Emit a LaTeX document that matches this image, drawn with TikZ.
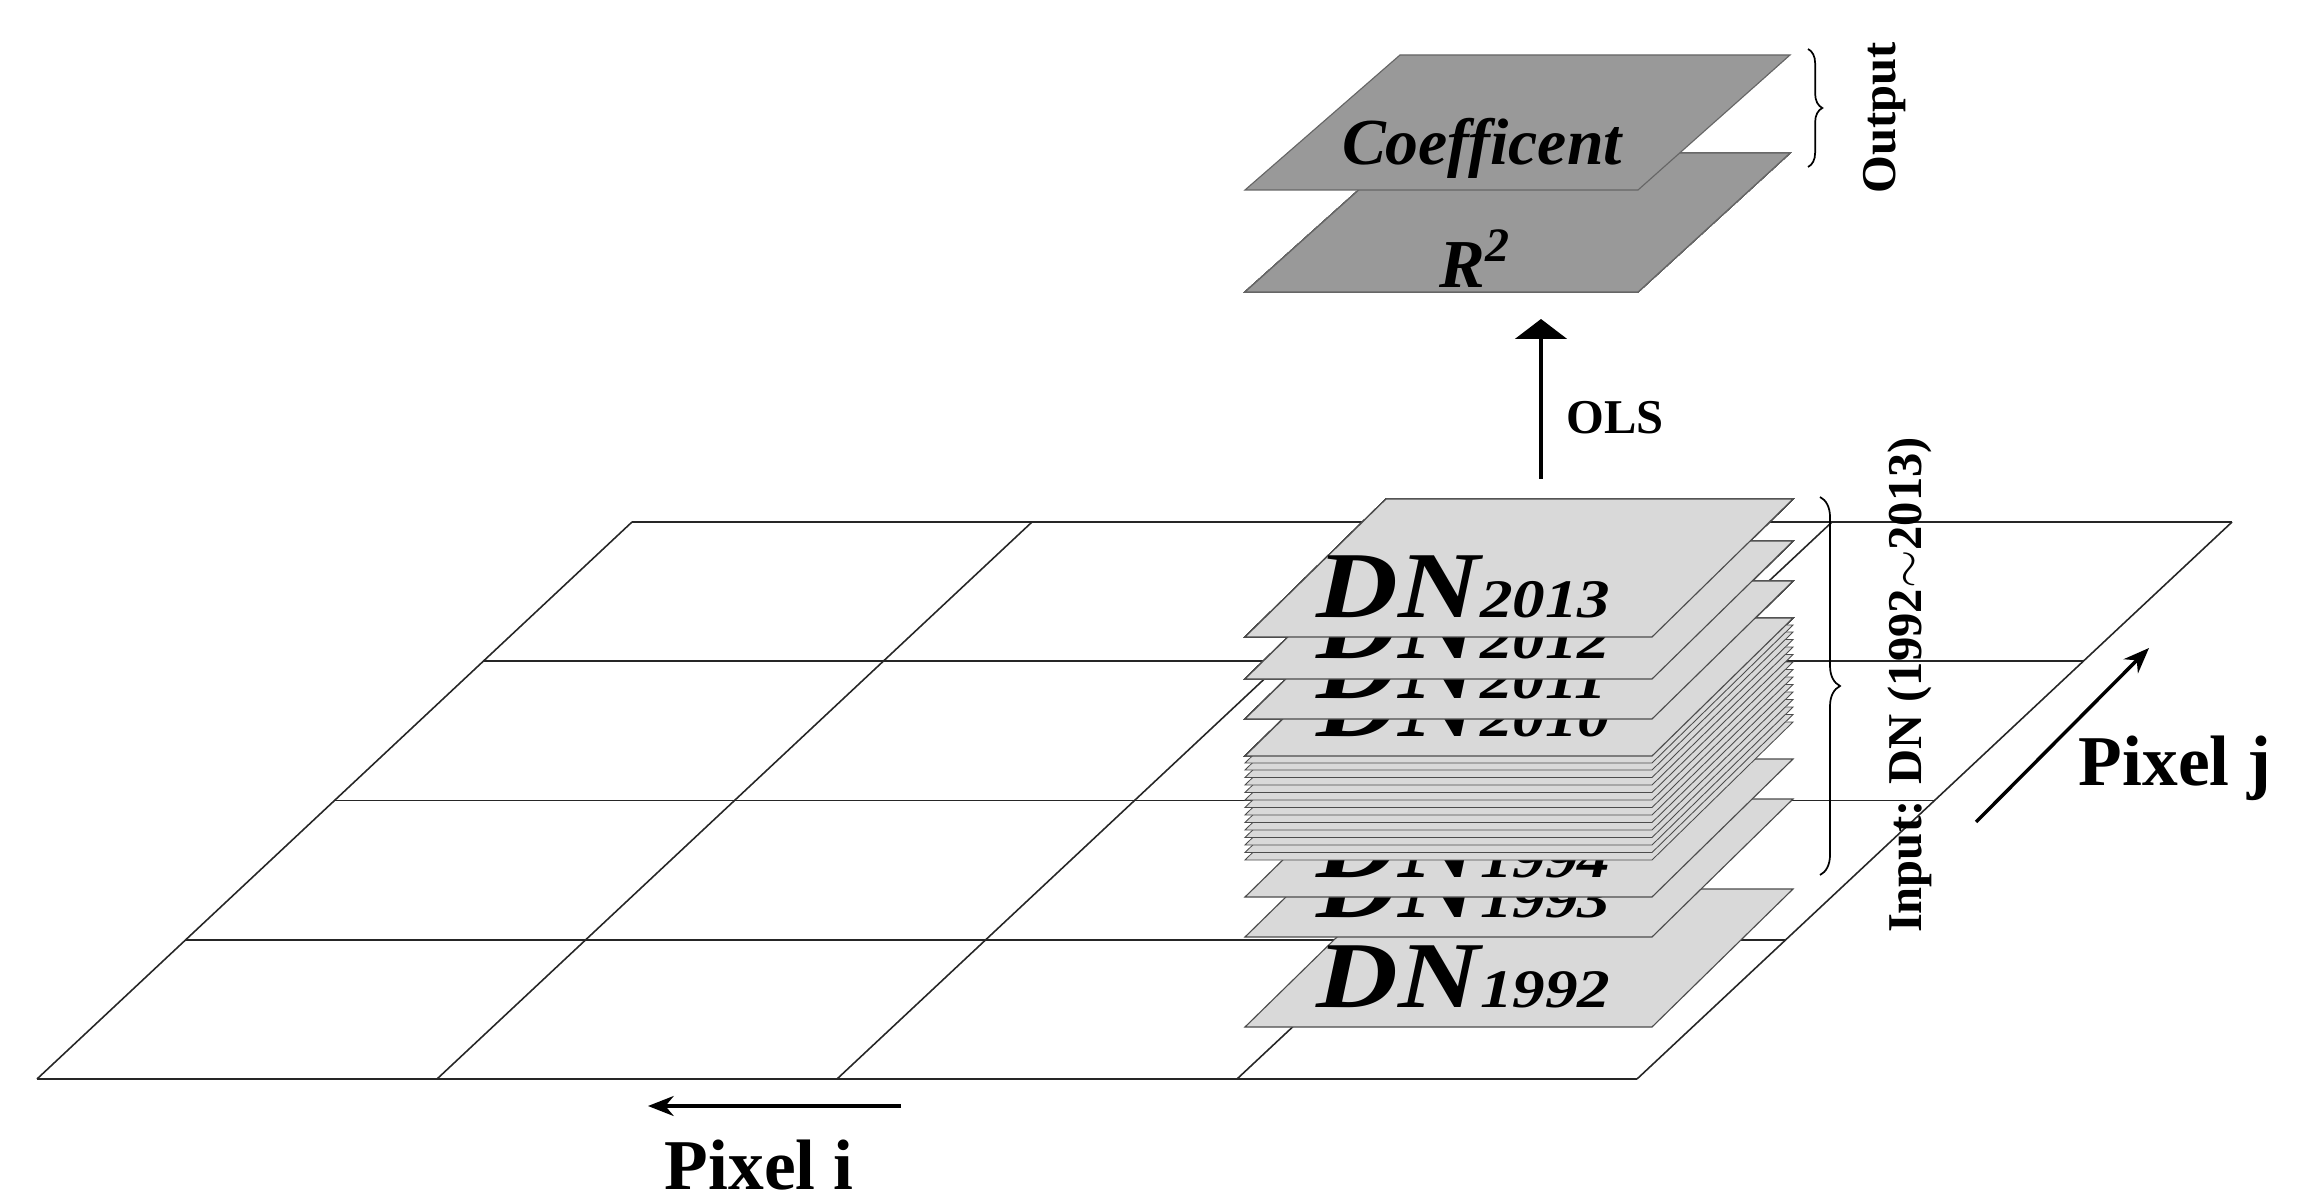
\documentclass[tikz,border=0pt]{standalone}
\usepackage{fontspec}
\setmainfont{Liberation Serif}
\usetikzlibrary{arrows.meta,decorations.pathreplacing}
\tikzset{
  gridline/.style={line width=0.55pt,black!85},
  lay/.style={fill=black!15,draw=black!70,line width=0.4pt},
  outlay/.style={fill=black!40,draw=black!60,line width=0.4pt},
  dntext/.style={anchor=base west,inner sep=0pt,font=\fontsize{33}{33}\selectfont\bfseries\itshape},
  lbl/.style={inner sep=0pt,font=\bfseries},
  brc/.style={decorate,decoration={brace,amplitude=5pt},line width=0.6pt},
}
\newcommand\dnlayer[2]{%
  \draw[lay] (1245,#1) -- (1652,#1) -- (1793,#1-138) -- (1386,#1-138) -- cycle;
  \node[dntext] (dn#2) at (1316,#1-20) {\scalebox{1.2}[1]{DN{\fontsize{19}{19}\selectfont #2}}};}
\newcommand\thinlayer[1]{%
  \draw[lay,line width=0.3pt] (1245,#1) -- (1652,#1) -- (1793,#1-138) -- (1386,#1-138) -- cycle;}
\begin{document}
\begin{tikzpicture}[x=0.35pt,y=-0.35pt]
\fill[white] (0,0) rectangle (2297,1204);
\useasboundingbox (0,0) rectangle (2297,1204);
% grid
\foreach \v in {0,0.25,0.5,0.75,1}
  \draw[gridline] ({37+595*\v},{1079-557*\v}) -- ({1637+595*\v},{1079-557*\v});
\foreach \u in {0,1,2,3,4}
  \draw[gridline] ({37+400*\u},1079) -- ({37+400*\u+595},522);
% input stack
\dnlayer{1027}{1992}
\dnlayer{937}{1993}
\dnlayer{897}{1994}
\foreach \b in {860,852.5,845,837.5,830,822.5,815,807.5,800,792.5,785,777.5,770,763}
  \thinlayer{\b}
\dnlayer{756}{2010}
\dnlayer{719}{2011}
\dnlayer{679}{2012}
\dnlayer{637}{2013}
% output layers
\draw[outlay] (1245,292) -- (1638,292) -- (1790,153) -- (1400,153) -- cycle;
\node[inner sep=0pt,font=\fontsize{24}{24}\selectfont\bfseries\itshape] (r2) at (1475,259) {R\textsuperscript{2}};
\draw[outlay] (1245,190) -- (1638,190) -- (1790,55) -- (1400,55) -- cycle;
\node[inner sep=0pt,font=\fontsize{23}{23}\selectfont\bfseries\itshape] (coef) at (1482,148) {Coefficent};
% OLS arrow
\coordinate (olsA) at (1541,479);
\coordinate (olsB) at (1541,319);
\draw[line width=1.6pt,-{Triangle[width=18pt,length=7pt]}] (olsA) -- (olsB);
\node[lbl,anchor=west,font=\fontsize{17}{17}\selectfont\bfseries] (ols) at (1566,418) {OLS};
% braces
\coordinate (ob1) at (1808,49); \coordinate (ob2) at (1808,167);
\draw[brc] (ob1) -- (ob2);
\node[lbl,rotate=90,font=\fontsize{17}{17}\selectfont\bfseries] (out) at (1885,118) {Output};
\coordinate (ib1) at (1820,497); \coordinate (ib2) at (1820,875);
\draw[brc,decoration={amplitude=7pt}] (ib1) -- (ib2);
\node[lbl,rotate=90,font=\fontsize{17}{17}\selectfont\bfseries] (inp) at (1910,685) {Input: DN (1992$\sim$2013)};
% pixel arrows
\coordinate (pjA) at (1976,822); \coordinate (pjB) at (2149,648);
\draw[line width=1.2pt,-{Stealth[length=9pt,width=7pt]}] (pjA) -- (pjB);
\node[lbl,font=\fontsize{25}{25}\selectfont\bfseries] (pj) at (2175,768) {Pixel j};
\coordinate (piA) at (901,1106); \coordinate (piB) at (648,1106);
\draw[line width=1.2pt,-{Stealth[length=9pt,width=7pt]}] (piA) -- (piB);
\node[lbl,font=\fontsize{25}{25}\selectfont\bfseries] (pi) at (759,1165) {Pixel i};
\end{tikzpicture}
\end{document}
